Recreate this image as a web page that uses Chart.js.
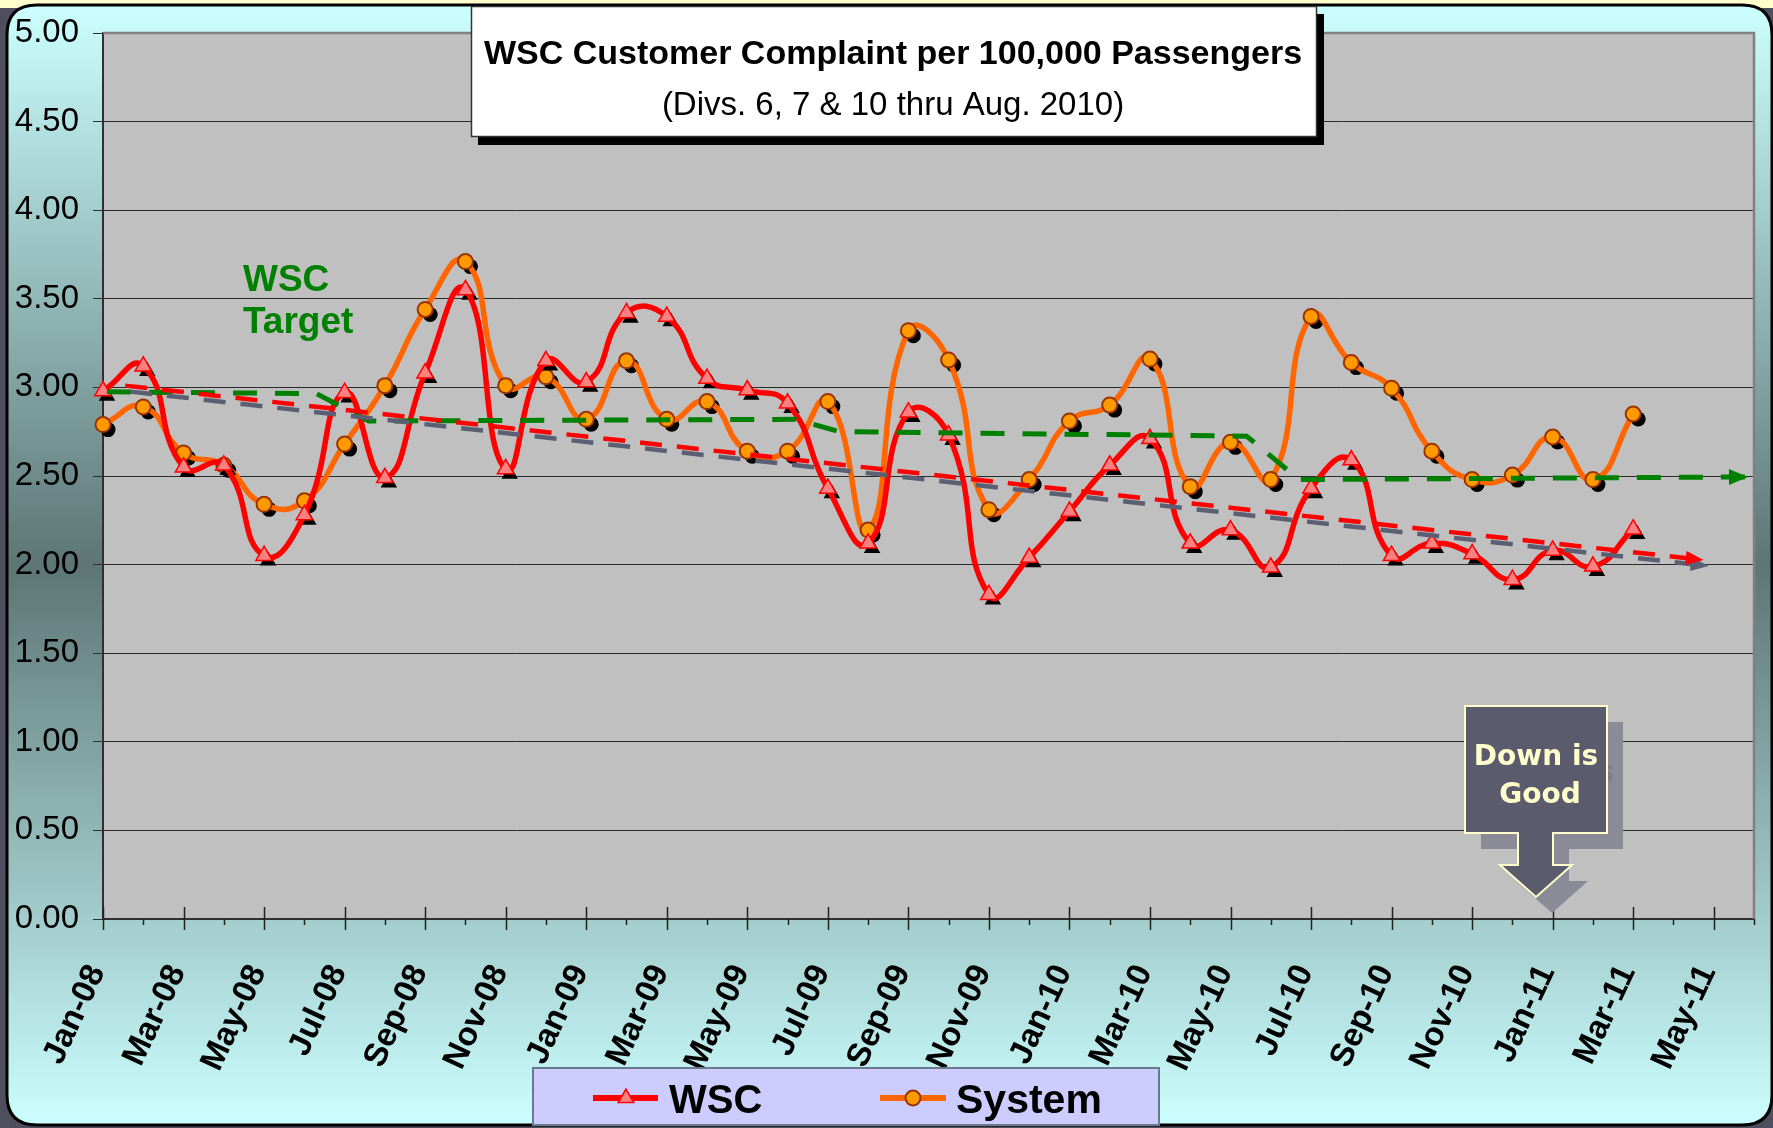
<!DOCTYPE html>
<html>
<head>
<meta charset="utf-8">
<script src="https://cdn.jsdelivr.net/npm/chart.js@4/dist/chart.umd.min.js"></script>
<style>
html,body{margin:0;padding:0;overflow:hidden;background:#ffffcc}
canvas{display:block}
</style>
</head>
<body>
<canvas id="c" width="1773" height="1128"></canvas>
<script>
// ---------- data ----------
const months = ['Jan-08','Feb-08','Mar-08','Apr-08','May-08','Jun-08','Jul-08','Aug-08','Sep-08','Oct-08','Nov-08','Dec-08',
  'Jan-09','Feb-09','Mar-09','Apr-09','May-09','Jun-09','Jul-09','Aug-09','Sep-09','Oct-09','Nov-09','Dec-09',
  'Jan-10','Feb-10','Mar-10','Apr-10','May-10','Jun-10','Jul-10','Aug-10','Sep-10','Oct-10','Nov-10','Dec-10',
  'Jan-11','Feb-11','Mar-11','Apr-11','May-11','Jun-11'];
const xTickLabels = ['Jan-08','Mar-08','May-08','Jul-08','Sep-08','Nov-08','Jan-09','Mar-09','May-09','Jul-09','Sep-09',
  'Nov-09','Jan-10','Mar-10','May-10','Jul-10','Sep-10','Nov-10','Jan-11','Mar-11','May-11'];
const yTicks = [0,0.5,1,1.5,2,2.5,3,3.5,4,4.5,5];

const wscValues = [2.98,3.12,2.55,2.56,2.05,2.28,2.97,2.49,3.08,3.55,2.54,3.15,
  3.03,3.42,3.40,3.05,2.985,2.91,2.43,2.12,2.86,2.73,1.83,2.04,
  2.30,2.56,2.71,2.12,2.195,1.985,2.43,2.59,2.05,2.12,2.06,1.915,
  2.08,1.99,2.20];
const systemValues = [2.79,2.89,2.63,2.56,2.34,2.36,2.68,3.01,3.44,3.71,3.01,3.06,
  2.82,3.15,2.82,2.92,2.64,2.64,2.92,2.195,3.32,3.155,2.31,2.48,
  2.81,2.90,3.16,2.44,2.69,2.48,3.40,3.14,2.995,2.64,2.48,2.505,
  2.72,2.48,2.85];
// WSC target (step line, month index positions)
const targetX = [0.1,5.3,6.6,17.2,18.3,28.4,29.7,40.85];
const targetY = [2.975,2.965,2.81,2.82,2.75,2.725,2.48,2.495];
// WSC trend arrow
const trendX = [0.55,39.75];
const trendY = [3.01,2.026];

// ---------- helpers ----------
function pts(xs, ys){ return xs.map((x,i)=>({x:x, y:ys[i]})); }
function series(vals){ return vals.map((v,i)=>({x:i, y:v})); }
function roundRectPath(ctx,x,y,w,h,r){
  ctx.beginPath();
  ctx.moveTo(x+r,y); ctx.lineTo(x+w-r,y); ctx.quadraticCurveTo(x+w,y,x+w,y+r);
  ctx.lineTo(x+w,y+h-r); ctx.quadraticCurveTo(x+w,y+h,x+w-r,y+h);
  ctx.lineTo(x+r,y+h); ctx.quadraticCurveTo(x,y+h,x,y+h-r);
  ctx.lineTo(x,y+r); ctx.quadraticCurveTo(x,y,x+r,y); ctx.closePath();
}
function triPath(ctx,x,y,r){
  ctx.beginPath();
  for(let k=0;k<3;k++){
    const a = k*2*Math.PI/3;
    const px = x+Math.sin(a)*r, py = y-Math.cos(a)*r;
    if(k===0) ctx.moveTo(px,py); else ctx.lineTo(px,py);
  }
  ctx.closePath();
}

// ---------- plugins ----------
const framePlugin = {
  id:'frame',
  beforeDraw(chart){
    const {ctx, chartArea:a, width:W, height:H} = chart;
    ctx.save();
    ctx.fillStyle='#4e4e5e'; ctx.fillRect(0,0,W,H);
    ctx.fillStyle='#ffffcc'; ctx.fillRect(0,0,W,8);
    const g = ctx.createLinearGradient(0,5,0,H-2);
    g.addColorStop(0,'#ccffff'); g.addColorStop(0.5,'#5d7575'); g.addColorStop(1,'#ccffff');
    roundRectPath(ctx,7,5,W-8,H-8,30);
    ctx.fillStyle=g; ctx.fill();
    ctx.lineWidth=3; ctx.strokeStyle='#000'; ctx.stroke();
    ctx.fillStyle='#c0c0c0';
    ctx.fillRect(a.left,a.top,a.right-a.left,a.bottom-a.top);
    ctx.restore();
  },
  beforeDatasetsDraw(chart){
    const {ctx, chartArea:a, scales} = chart;
    ctx.save();
    ctx.strokeStyle='#808080'; ctx.lineWidth=2.5;
    ctx.beginPath(); ctx.moveTo(a.left,a.top); ctx.lineTo(a.right,a.top); ctx.lineTo(a.right,a.bottom); ctx.stroke();
    // x-axis tick marks: major (labelled) cross the axis, minor outside only
    const xs = scales.x;
    ctx.strokeStyle='#222'; ctx.lineWidth=1.5;
    for(let i=0;i<months.length;i++){
      const px = Math.round(xs.getPixelForValue(i))+0.5;
      ctx.beginPath();
      if(i%2===0){ ctx.moveTo(px,a.bottom-12); ctx.lineTo(px,a.bottom+11); }
      else { ctx.moveTo(px,a.bottom); ctx.lineTo(px,a.bottom+6); }
      ctx.stroke();
    }
    ctx.restore();
  },
  beforeDatasetDraw(chart,args){
    const ds = chart.data.datasets[args.index];
    const ctx = chart.ctx;
    if(ds.markerShadow){
      ctx.save(); ctx.fillStyle='#000';
      args.meta.data.forEach(p=>{
        if(ds.pointStyle==='triangle'){ triPath(ctx,p.x+4,p.y+5,ds.pointRadius); ctx.fill(); }
        else { ctx.beginPath(); ctx.arc(p.x+5,p.y+5,ds.pointRadius,0,2*Math.PI); ctx.fill(); }
      });
      ctx.restore();
    }
    ctx.save();
    if(ds.shadowColor){
      ctx.shadowColor = ds.shadowColor; ctx.shadowOffsetX = 5; ctx.shadowOffsetY = 6; ctx.shadowBlur = 0;
    }
  },
  afterDatasetDraw(chart,args){
    const ds = chart.data.datasets[args.index];
    const ctx = chart.ctx;
    if(ds.arrowHead){
      const d = args.meta.data;
      const p1 = d[d.length-2], p2 = d[d.length-1];
      const ang = Math.atan2(p2.y-p1.y, p2.x-p1.x);
      const L = ds.arrowHead.len, hw = ds.arrowHead.half;
      ctx.fillStyle = ds.borderColor;
      ctx.beginPath();
      ctx.moveTo(p2.x,p2.y);
      ctx.lineTo(p2.x - L*Math.cos(ang) + hw*Math.sin(ang), p2.y - L*Math.sin(ang) - hw*Math.cos(ang));
      ctx.lineTo(p2.x - L*Math.cos(ang) - hw*Math.sin(ang), p2.y - L*Math.sin(ang) + hw*Math.cos(ang));
      ctx.closePath(); ctx.fill();
    }
    ctx.restore();
  },
  afterDraw(chart){
    const ctx = chart.ctx;
    ctx.save();
    // ---- title box ----
    ctx.fillStyle='#000'; ctx.fillRect(478,14,846,131);
    ctx.fillStyle='#fff'; ctx.fillRect(471,6,846,131);
    ctx.strokeStyle='#333'; ctx.lineWidth=1.5; ctx.strokeRect(471.5,6.5,845,130);
    ctx.fillStyle='#000'; ctx.textAlign='center'; ctx.textBaseline='alphabetic';
    ctx.font='bold 34px "Liberation Sans", Arial, sans-serif';
    ctx.fillText('WSC Customer Complaint per 100,000 Passengers',893,64);
    ctx.font='33px "Liberation Sans", Arial, sans-serif';
    ctx.fillText('(Divs. 6, 7 & 10 thru Aug. 2010)',893,115);

    // ---- WSC Target label ----
    ctx.textAlign='left'; ctx.fillStyle='#008000';
    ctx.font='bold 37px "Liberation Sans", Arial, sans-serif';
    ctx.fillText('WSC',243,291);
    ctx.fillText('Target',243,333);

    // ---- Down is Good callout ----
    const shape = (dx,dy)=>{
      ctx.beginPath();
      ctx.moveTo(1465+dx,706+dy); ctx.lineTo(1607+dx,706+dy); ctx.lineTo(1607+dx,833+dy);
      ctx.lineTo(1553+dx,833+dy); ctx.lineTo(1553+dx,865+dy); ctx.lineTo(1572+dx,865+dy);
      ctx.lineTo(1536+dx,897+dy); ctx.lineTo(1500+dx,865+dy); ctx.lineTo(1518+dx,865+dy);
      ctx.lineTo(1518+dx,833+dy); ctx.lineTo(1465+dx,833+dy); ctx.closePath();
    };
    shape(16,16); ctx.fillStyle='#8a8b96'; ctx.fill();
    ctx.textAlign='center';
    ctx.font='bold 28px "DejaVu Sans", Verdana, sans-serif';
    ctx.fillStyle='#7c7e8e';
    ctx.fillText('Down is',1552,781);
    shape(0,0); ctx.fillStyle='#5a5c6e'; ctx.fill();
    ctx.strokeStyle='#ffffcc'; ctx.lineWidth=2; ctx.stroke();
    ctx.fillStyle='#ffffcc';
    ctx.fillText('Down is',1536,765); ctx.fillText('Good',1540,803);

    // ---- legend ----
    ctx.fillStyle='#ccccff'; ctx.fillRect(533,1068,626,57);
    ctx.strokeStyle='#6a7a8a'; ctx.lineWidth=2; ctx.strokeRect(533,1068,626,57);
    ctx.lineWidth=6; ctx.strokeStyle='#ff0000';
    ctx.beginPath(); ctx.moveTo(593,1098); ctx.lineTo(658,1098); ctx.stroke();
    triPath(ctx,626,1098,9); ctx.fillStyle='#ff8080'; ctx.fill(); ctx.lineWidth=1.5; ctx.strokeStyle='#ff0000'; ctx.stroke();
    ctx.lineWidth=6; ctx.strokeStyle='#ff6600';
    ctx.beginPath(); ctx.moveTo(880,1098); ctx.lineTo(946,1098); ctx.stroke();
    ctx.beginPath(); ctx.arc(913,1098,7.5,0,2*Math.PI); ctx.fillStyle='#ff9900'; ctx.fill();
    ctx.lineWidth=2; ctx.strokeStyle='#993300'; ctx.stroke();
    ctx.fillStyle='#000'; ctx.textAlign='left';
    ctx.font='bold 40px "Liberation Sans", Arial, sans-serif';
    ctx.fillText('WSC',669,1113);
    ctx.font='bold 41px "Liberation Sans", Arial, sans-serif';
    ctx.fillText('System',956,1113);
    ctx.restore();
  }
};

// ---------- chart ----------
new Chart(document.getElementById('c').getContext('2d'), {
  type:'line',
  data:{
    datasets:[
      { label:'WSC trend', data:pts(trendX,trendY), borderColor:'#ff0000', borderWidth:4.5,
        borderDash:[22,15], pointRadius:0, tension:0, clip:false,
        shadowColor:'#5a5f73', arrowHead:{len:18,half:7} },
      { label:'WSC Target', data:pts(targetX,targetY), borderColor:'#008000', borderWidth:5,
        borderDash:[24,18], pointRadius:0, tension:0, clip:false, arrowHead:{len:19,half:8} },
      { label:'WSC', data:series(wscValues), borderColor:'#ff0000', borderWidth:5.5,
        pointStyle:'triangle', pointRadius:9.5, pointBackgroundColor:'#ff8080',
        pointBorderColor:'#ff0000', pointBorderWidth:1.5, tension:0.5, clip:false, markerShadow:true },
      { label:'System', data:series(systemValues), borderColor:'#ff6600', borderWidth:5.5,
        pointStyle:'circle', pointRadius:7.5, pointBackgroundColor:'#ff9900',
        pointBorderColor:'#993300', pointBorderWidth:2, tension:0.5, clip:false, markerShadow:true }
    ]
  },
  options:{
    responsive:false, animation:false, events:[],
    layout:{padding:{left:0, top:33, right:19, bottom:0}},
    plugins:{legend:{display:false}, tooltip:{enabled:false}, title:{display:false}},
    scales:{
      x:{
        type:'linear', min:0, max:months.length-1,
        afterFit(s){ s.height = 209; s.paddingLeft = 0; s.paddingRight = 0; },
        grid:{display:false, drawTicks:false},
        border:{display:true, color:'#303030', width:2},
        ticks:{
          stepSize:1, autoSkip:false, minRotation:65, maxRotation:65, padding:40, labelOffset:-6,
          color:'#000', font:{family:'"Liberation Sans", Arial, sans-serif', size:33, weight:'bold'},
          callback:(v)=>{ const i=Math.round(v); return i%2===0 ? xTickLabels[i/2] : ''; }
        }
      },
      y:{
        min:0, max:5,
        afterFit(s){ s.width = 103; s.paddingTop = 0; s.paddingBottom = 0; },
        afterBuildTicks(s){ s.ticks = yTicks.map(v=>({value:v})); },
        grid:{color:'#2a2a2a', lineWidth:1, drawTicks:true, tickLength:10, tickColor:'#303030'},
        border:{display:true, color:'#303030', width:2},
        ticks:{ padding:14, color:'#000', font:{family:'"Liberation Sans", Arial, sans-serif', size:33},
          callback:(v)=>Number(v).toFixed(2) }
      }
    }
  },
  plugins:[framePlugin]
});
</script>
</body>
</html>
